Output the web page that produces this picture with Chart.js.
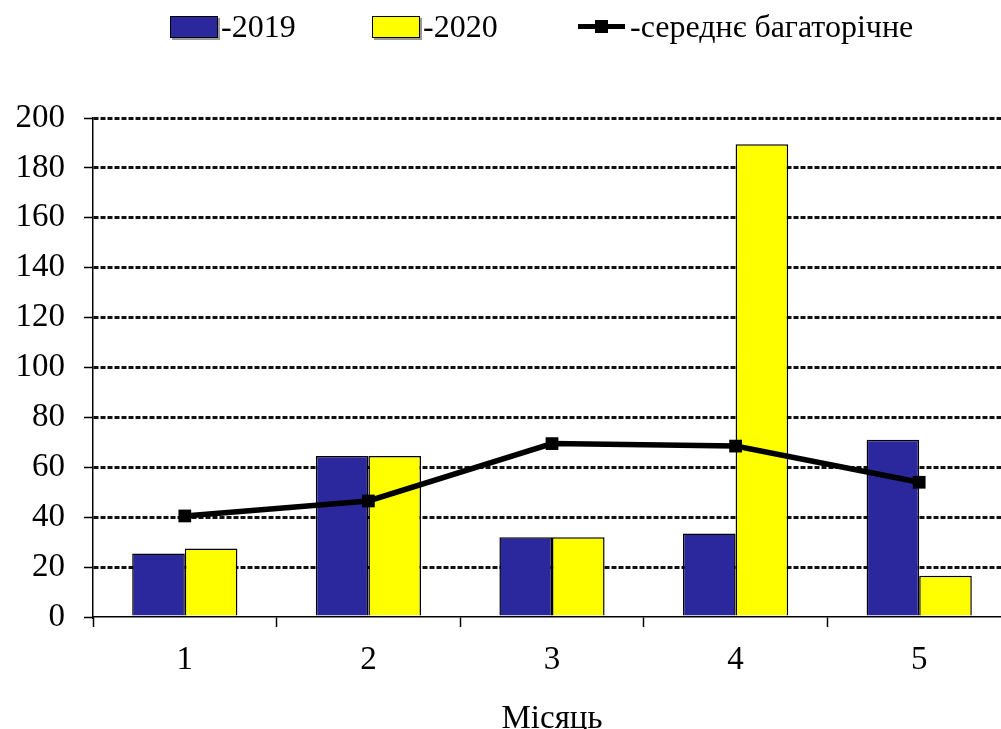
<!DOCTYPE html>
<html>
<head>
<meta charset="utf-8">
<script src="https://cdn.jsdelivr.net/npm/chart.js@4"></script>
<style>
  html, body { margin: 0; padding: 0; background: #fff; overflow: hidden; }
  #wrap { position: relative; width: 1020px; height: 729px; }
  #legend { position: absolute; top: 0; left: 0; width: 1001px; height: 60px;
            font-family: 'Liberation Serif', 'Times New Roman', serif; font-size: 32px; color: #000; }
  .item { position: absolute; top: 6px; height: 40px; line-height: 40px; white-space: nowrap; }
  .swatch { display: inline-block; width: 46px; height: 20px; border: 1.5px solid #000;
            vertical-align: middle; box-shadow: 2px 2px 0 #999; margin-right: 3px; position: relative; top: -3px; }
  .lineKey { display: inline-block; width: 47px; height: 5px; background: #000; vertical-align: middle;
             position: relative; top: -3px; margin-right: 5px; }
  .lineKey::after { content: ''; position: absolute; left: 17px; top: -4px; width: 13px; height: 13px; background: #000; }
</style>
</head>
<body>
<div id="wrap">
  <canvas id="chart" width="1020" height="729"></canvas>
  <div id="legend">
    <div class="item" style="left:170px"><span class="swatch" style="background:#2B279D"></span>-2019</div>
    <div class="item" style="left:372px"><span class="swatch" style="background:#FFFF00"></span>-2020</div>
    <div class="item" style="left:578px"><span class="lineKey"></span>-середнє багаторічне</div>
  </div>
</div>
<script>
// Monthly values
const months = ['1', '2', '3', '4', '5'];
const values2019 = [25.5, 64.5, 32, 33.5, 71];
const values2020 = [27.5, 64.5, 32, 189.5, 16.5];
const longTermAvg = [40.5, 46.5, 69.5, 68.5, 54];
const yTicks = [0, 20, 40, 60, 80, 100, 120, 140, 160, 180, 200];

const FONT = { family: "'Liberation Serif', 'Times New Roman', serif", size: 33 };

const ctx = document.getElementById('chart').getContext('2d');
new Chart(ctx, {
    type: 'bar',
    data: {
        labels: months,
        datasets: [
            {
                type: 'line',
                label: '-середнє багаторічне',
                data: longTermAvg,
                borderColor: '#000',
                backgroundColor: '#000',
                borderWidth: 5.5,
                pointStyle: 'rect',
                pointRadius: 9,
                pointBorderWidth: 0,
                tension: 0,
                order: 0
            },
            {
                label: '-2019',
                data: values2019,
                backgroundColor: '#2B279D',
                borderColor: '#000',
                borderWidth: 1.5,
                categoryPercentage: 0.573,
                barPercentage: 1,
                order: 1
            },
            {
                label: '-2020',
                data: values2020,
                backgroundColor: '#FFFF00',
                borderColor: '#000',
                borderWidth: 1.5,
                categoryPercentage: 0.573,
                barPercentage: 1,
                order: 2
            }
        ]
    },
    options: {
        responsive: false,
        animation: false,
        layout: { padding: { top: 118, right: 0, left: 0, bottom: 0 } },
        plugins: {
            legend: { display: false },
            tooltip: { enabled: false }
        },
        scales: {
            x: {
                offset: true,
                afterFit: function(scale) { scale.height = 112; },
                grid: {
                    offset: true,
                    drawOnChartArea: false,
                    drawTicks: true,
                    tickLength: 10,
                    tickColor: '#000',
                    tickWidth: 1.5
                },
                border: { display: true, color: '#000', width: 1.5 },
                ticks: { font: FONT, color: '#000', padding: 14 },
                title: {
                    display: true,
                    text: 'Місяць',
                    font: FONT,
                    color: '#000',
                    padding: { top: 0, bottom: -10 }
                }
            },
            y: {
                min: 0,
                max: 200,
                afterFit: function(scale) { scale.width = 93; },
                afterBuildTicks: function(scale) {
                    scale.ticks = yTicks.map(v => ({ value: v }));
                },
                grid: {
                    color: function(c) { return c.tick && c.tick.value === 0 ? 'rgba(0,0,0,0)' : '#111'; },
                    lineWidth: 3,
                    drawTicks: true,
                    tickLength: 9,
                    tickColor: '#000',
                    tickWidth: 1.5,
                    tickBorderDash: []
                },
                border: { display: true, color: '#000', width: 1.5, dash: [5, 2] },
                ticks: { font: FONT, color: '#000', padding: 19 }
            }
        }
    }
});
</script>
</body>
</html>
